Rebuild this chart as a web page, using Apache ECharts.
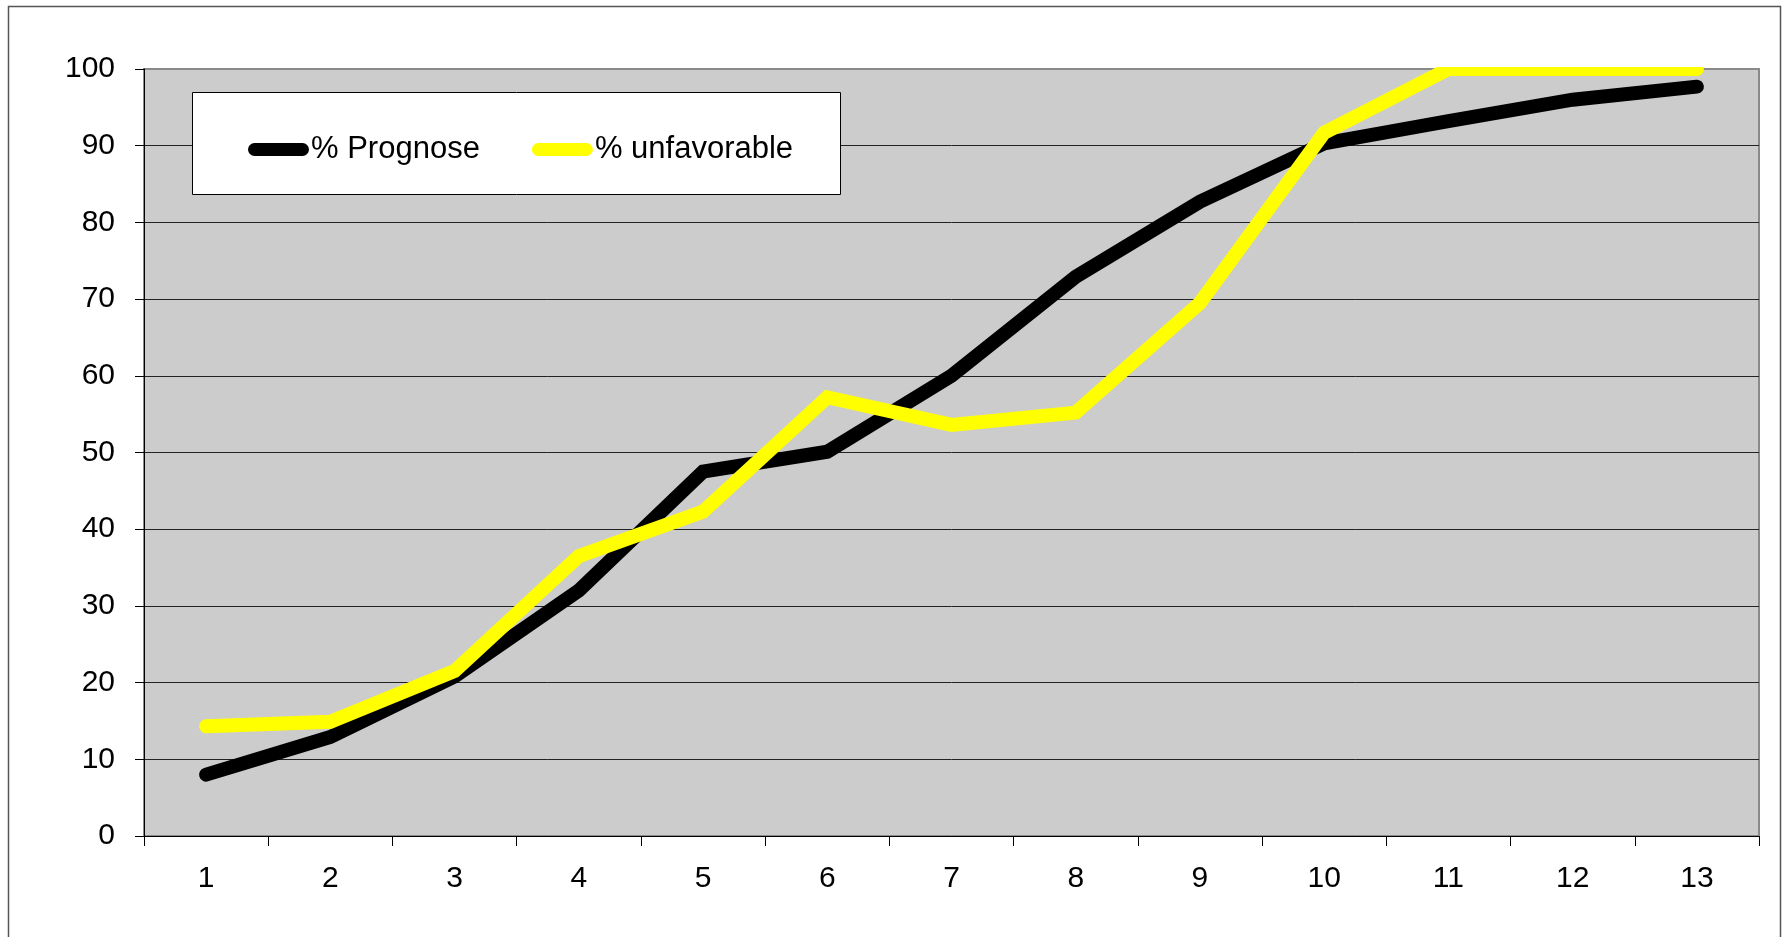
<!DOCTYPE html>
<html>
<head>
<meta charset="utf-8">
<script src="https://cdn.jsdelivr.net/npm/echarts@6/dist/echarts.min.js"></script>
<style>
  html, body { margin: 0; padding: 0; background: #ffffff; }
  #chart { width: 1787px; height: 937px; }
</style>
</head>
<body>
<div id="chart"></div>
<script>
// Category labels along the x axis
const categories = ['1', '2', '3', '4', '5', '6', '7', '8', '9', '10', '11', '12', '13'];

// Series values (percent)
const prognose = [8, 12.9, 20.8, 32, 47.5, 50.1, 60, 72.9, 82.7, 90.3, 93.2, 96, 97.7];
const unfavorable = [14.3, 14.9, 21.5, 36.5, 42.3, 57.2, 53.6, 55.2, 69.5, 91.7, 100, 100, 100];

// Value axis range
const yMin = 0;
const yMax = 100;
const yStep = 10;

const seriesNames = ['% Prognose', '% unfavorable'];

const FONT = '"Liberation Sans", Arial, sans-serif';

const chart = echarts.init(document.getElementById('chart'), null, { renderer: 'canvas' });

// capsule-shaped legend swatch
const capsule = 'path://M6.5,0 H54.5 A6.5,6.5 0 0 1 54.5,13 H6.5 A6.5,6.5 0 0 1 6.5,0 Z';

chart.setOption({
  animation: false,
  backgroundColor: '#ffffff',
  textStyle: { fontFamily: FONT },
  grid: {
    left: 144,
    right: 28,
    top: 69,
    bottom: 101,
    show: true,
    backgroundColor: '#cccccc',
    borderColor: '#8a8a8a',
    borderWidth: 2
  },
  legend: {
    left: 243,
    top: 129,
    z: 10,
    itemWidth: 61,
    itemHeight: 13,
    itemGap: 52,
    icon: capsule,
    textStyle: { fontSize: 31, color: '#000', fontFamily: FONT, padding: [0, 0, 0, -3] },
    data: [
      { name: seriesNames[0], itemStyle: { color: '#000000' } },
      { name: seriesNames[1], itemStyle: { color: '#ffff00' } }
    ]
  },
  xAxis: {
    type: 'category',
    data: categories,
    boundaryGap: true,
    axisLine: { show: true, lineStyle: { color: '#000', width: 1 } },
    axisTick: { show: true, length: 10, lineStyle: { color: '#000', width: 1 } },
    axisLabel: { fontSize: 30, color: '#000', margin: 28, fontFamily: FONT },
    splitLine: { show: false }
  },
  yAxis: {
    type: 'value',
    min: yMin,
    max: yMax,
    interval: yStep,
    axisLine: { show: true, lineStyle: { color: '#000', width: 1 } },
    axisTick: { show: true, length: 9, lineStyle: { color: '#000', width: 1 } },
    axisLabel: { fontSize: 30, color: '#000', margin: 29, fontFamily: FONT },
    splitLine: { show: true, showMaxLine: false, lineStyle: { color: '#222', width: 1 } }
  },
  graphic: [
    // white band above the plot keeps the thick lines from spilling upward
    {
      type: 'rect',
      z: 3,
      silent: true,
      shape: { x: 145, y: 10, width: 1613, height: 57 },
      style: { fill: '#ffffff' }
    },
    // legend frame
    {
      type: 'rect',
      z: 3,
      silent: true,
      shape: { x: 192.5, y: 92.5, width: 648, height: 102 },
      style: { fill: '#ffffff', stroke: '#000000', lineWidth: 1 }
    },
    // chart frame
    {
      type: 'rect',
      z: 4,
      silent: true,
      shape: { x: 8.5, y: 6.5, width: 1772, height: 960 },
      style: { fill: 'none', stroke: '#555555', lineWidth: 1.5 }
    }
  ],
  series: [
    {
      name: seriesNames[0],
      type: 'line',
      data: prognose,
      showSymbol: false,
      symbol: 'none',
      color: '#000000',
      lineStyle: { color: '#000000', width: 14, cap: 'round', join: 'miter' },
      z: 2
    },
    {
      name: seriesNames[1],
      type: 'line',
      data: unfavorable,
      showSymbol: false,
      symbol: 'none',
      color: '#ffff00',
      lineStyle: { color: '#ffff00', width: 14, cap: 'round', join: 'miter' },
      z: 2
    }
  ]
});
</script>
</body>
</html>
